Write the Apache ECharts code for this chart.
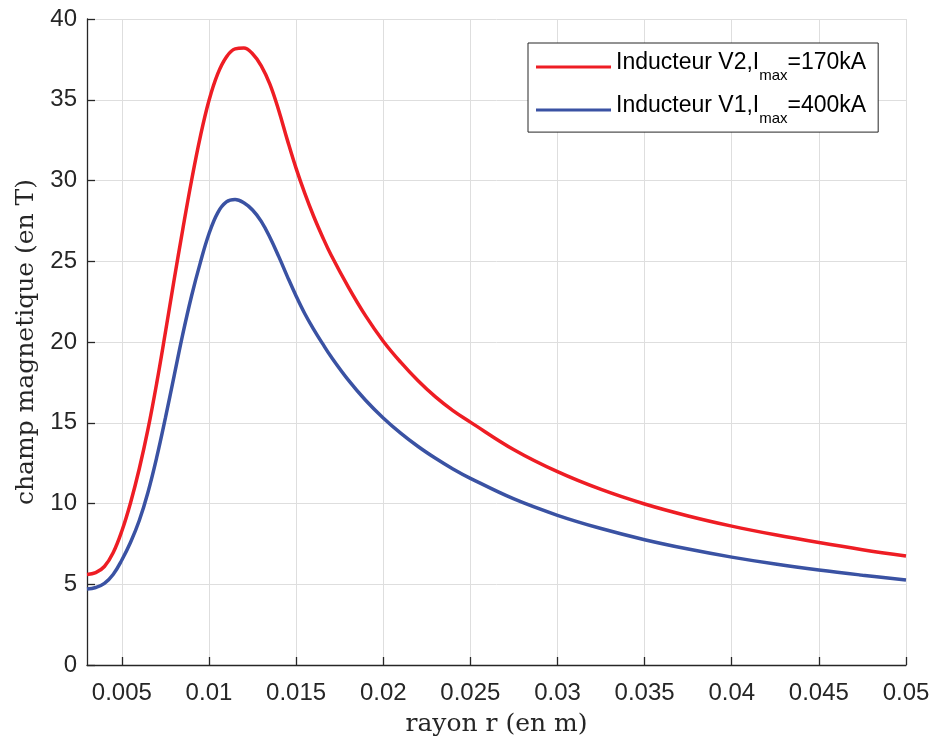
<!DOCTYPE html>
<html>
<head>
<meta charset="utf-8">
<script src="https://cdn.jsdelivr.net/npm/echarts@6/dist/echarts.min.js"></script>
<style>
html,body{margin:0;padding:0;background:#fff;}
#chart{width:933px;height:740px;}
</style>
</head>
<body>
<div id="chart"></div>
<script>
// radius r (m)
const radius = [0.003,0.0035,0.004,0.0045,0.005,0.0055,0.006,0.0065,0.007,0.0075,0.008,0.0085,0.009,0.0095,0.01,0.0105,0.011,0.0115,0.012,0.0125,0.013,0.0135,0.014,0.0145,0.015,0.0155,0.016,0.0165,0.017,0.018,0.019,0.02,0.021,0.022,0.023,0.024,0.025,0.0275,0.03,0.0325,0.035,0.0375,0.04,0.0425,0.045,0.0475,0.05];
// Inducteur V2, Imax = 170 kA (T)
const fieldV2 = [5.6,5.72,6.1,6.95,8.3,10.05,12.15,14.6,17.45,20.6,23.85,27.0,30.0,32.7,34.95,36.6,37.65,38.15,38.2,37.85,37.1,35.95,34.35,32.5,30.75,29.2,27.8,26.55,25.4,23.4,21.6,20.05,18.75,17.6,16.6,15.75,15.04,13.33,11.97,10.87,9.97,9.23,8.6,8.06,7.58,7.14,6.75];
// Inducteur V1, Imax = 400 kA (T)
const fieldV1 = [4.7,4.8,5.05,5.6,6.5,7.6,8.95,10.7,12.85,15.3,17.9,20.5,22.85,24.9,26.7,28.0,28.67,28.82,28.62,28.17,27.47,26.47,25.3,24.05,22.85,21.75,20.8,19.93,19.1,17.64,16.38,15.3,14.36,13.53,12.8,12.14,11.56,10.28,9.27,8.45,7.76,7.18,6.68,6.25,5.88,5.56,5.27];
const xTicks = [0.005,0.01,0.015,0.02,0.025,0.03,0.035,0.04,0.045,0.05];
const xTickLabels = ['0.005','0.01','0.015','0.02','0.025','0.03','0.035','0.04','0.045','0.05'];
const yTicks = [0,5,10,15,20,25,30,35,40];
const seriesNames = ['Inducteur V2', 'Inducteur V1'];
const seriesCurrents = ['170kA', '400kA'];
const xTitle = 'rayon r (en m)';
const yTitle = 'champ magnetique (en T)';

const axisColor = '#262626';
const gridColor = '#dedede';
const colors = ['#EE1D24', '#3A52A3'];

const chart = echarts.init(document.getElementById('chart'), null, {renderer: 'canvas'});

function pairs(xs, ys) { return xs.map((x, i) => [x, ys[i]]); }

const option = {
  animation: false,
  backgroundColor: '#fff',
  grid: {left: 87, right: 27, top: 19, bottom: 75, containLabel: false, outerBoundsMode: 'none'},
  xAxis: {
    type: 'value',
    min: 0.003,
    max: 0.05,
    name: xTitle,
    nameLocation: 'middle',
    nameGap: 47,
    nameTextStyle: {fontFamily: 'DejaVu Serif', fontSize: 25, color: axisColor},
    axisLine: {show: true, onZero: false, lineStyle: {color: axisColor, width: 1.3}},
    axisTick: {show: true, inside: true, length: 8, customValues: xTicks, lineStyle: {color: axisColor, width: 1.3}},
    axisLabel: {
      customValues: xTicks,
      margin: 16,
      fontFamily: 'Liberation Sans', fontSize: 24, color: axisColor,
      formatter: function (v) {
        const idx = xTicks.findIndex(t => Math.abs(t - v) < 1e-9);
        return idx >= 0 ? xTickLabels[idx] : '';
      }
    },
    splitLine: {show: true, lineStyle: {color: gridColor, width: 1}}
  },
  yAxis: {
    type: 'value',
    min: yTicks[0],
    max: yTicks[yTicks.length - 1],
    interval: 5,
    name: yTitle,
    nameLocation: 'middle',
    nameGap: 48,
    nameRotate: 90,
    nameTextStyle: {fontFamily: 'DejaVu Serif', fontSize: 25, color: axisColor},
    axisLine: {show: true, lineStyle: {color: axisColor, width: 1.3}},
    axisTick: {show: true, inside: true, length: 8, lineStyle: {color: axisColor, width: 1.3}},
    axisLabel: {margin: 10, fontFamily: 'Liberation Sans', fontSize: 24, color: axisColor},
    splitLine: {show: true, lineStyle: {color: gridColor, width: 1}}
  },
  legend: {
    orient: 'vertical',
    left: 528,
    top: 43,
    padding: [8.5, 12, 6, 8],
    itemWidth: 75,
    itemHeight: 3,
    itemGap: 11.6,
    itemTextGap: 9,
    icon: 'rect',
    selectedMode: false,
    borderColor: axisColor,
    borderWidth: 1,
    backgroundColor: '#fff',
    data: seriesNames,
    formatter: function (name) {
      const i = seriesNames.indexOf(name);
      return '{a|' + name + ',I}{b|max}{a|=' + seriesCurrents[i] + '}';
    },
    textStyle: {
      padding: [0, 0, 8, 0],
      rich: {
        a: {fontFamily: 'Liberation Sans', fontSize: 23, color: '#000'},
        b: {fontFamily: 'Liberation Sans', fontSize: 15, color: '#000', padding: [25, 0, 0, 0]}
      }
    }
  },
  series: [
    {
      name: seriesNames[0],
      type: 'line',
      data: pairs(radius, fieldV2),
      smooth: 0.4,
      showSymbol: false,
      symbol: 'none',
      lineStyle: {color: colors[0], width: 3.5},
      itemStyle: {color: colors[0]},
      z: 3
    },
    {
      name: seriesNames[1],
      type: 'line',
      data: pairs(radius, fieldV1),
      smooth: 0.4,
      showSymbol: false,
      symbol: 'none',
      lineStyle: {color: colors[1], width: 3.5},
      itemStyle: {color: colors[1]},
      z: 3
    }
  ]
};
chart.setOption(option);
</script>
</body>
</html>
